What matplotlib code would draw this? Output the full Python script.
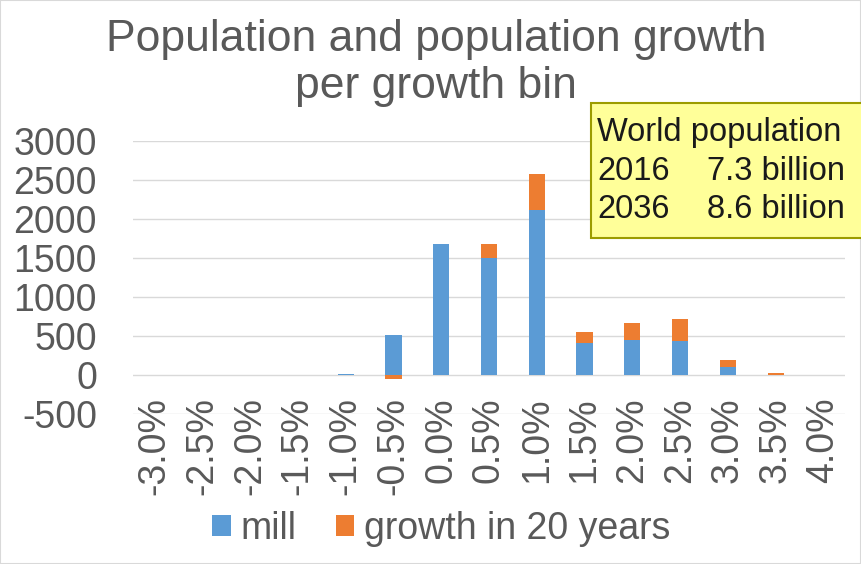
import numpy as np
import matplotlib.pyplot as plt
from matplotlib.patches import Rectangle

# growth bins and population values (millions)
bins = ['-3.0%', '-2.5%', '-2.0%', '-1.5%', '-1.0%', '-0.5%', '0.0%', '0.5%',
        '1.0%', '1.5%', '2.0%', '2.5%', '3.0%', '3.5%', '4.0%']
mill = [0, 0, 0, 3, 12, 515, 1680, 1505, 2115, 410, 450, 435, 105, 5, 0]
growth = [0, 0, 0, 1, 2, -55, 0, 175, 460, 140, 215, 285, 90, 18, 0]

plt.rcParams['font.family'] = ['Liberation Sans', 'DejaVu Sans']
plt.rcParams['axes.unicode_minus'] = False
grey = '#595959'

fig = plt.figure(figsize=(8.61, 5.64), dpi=100)
ax = fig.add_axes([133 / 861, 1 - 414 / 564, 712 / 861, 273 / 564])

x = np.arange(len(bins))
mill = np.array(mill)
growth = np.array(growth)
bottom = np.where(growth >= 0, mill, 0)
ax.bar(x, mill, width=0.34, color='#5B9BD5', label='mill', zorder=3)
ax.bar(x, growth, width=0.34, bottom=bottom, color='#ED7D31',
       label='growth in 20 years', zorder=3)

ax.set_xlim(-0.45, len(bins) - 0.55)
ax.set_ylim(-500, 3000)
ax.set_yticks(np.arange(-500, 3001, 500))
ax.set_xticks(x)
ax.set_xticklabels(bins, rotation=90)
ax.tick_params(axis='both', length=0, labelsize=27, colors=grey)
ax.tick_params(axis='y', pad=26)
ax.tick_params(axis='x', pad=-12)
ax.grid(axis='y', color='#D9D9D9', linewidth=1, zorder=0)
for s in ax.spines.values():
    s.set_visible(False)

fig.text(436 / 861, 1 - 63 / 564, 'Population and population growth\nper growth bin',
         ha='center', va='center', fontsize=32, color=grey, linespacing=1.17)

# info box
fig.patches.append(Rectangle((591 / 861, 1 - 238 / 564), 280 / 861, 135 / 564,
                             transform=fig.transFigure, facecolor='#FFFF99',
                             edgecolor='#9C9C00', linewidth=1.5, zorder=5))
rows = [('World population', ''), ('2016', '7.3 billion'), ('2036', '8.6 billion')]
for i, (a, b) in enumerate(rows):
    yy = 1 - (132 + 39 * i) / 564
    fig.text(597 / 861, yy, a, fontsize=23.5, color='#1a1a1a', va='center', zorder=6)
    if b:
        fig.text(707 / 861, yy, b, fontsize=23.5, color='#1a1a1a', va='center', zorder=6)

fig.legend(loc='center', bbox_to_anchor=(441 / 861, 1 - 529 / 564), ncol=2,
           frameon=False, fontsize=27, labelcolor=grey, handlelength=0.5,
           handleheight=0.5, handletextpad=0.25, columnspacing=1.05)

fig.patches.append(Rectangle((0, 0), 1, 1, transform=fig.transFigure, fill=False,
                             edgecolor='#D9D9D9', linewidth=1.5))

fig.savefig('out.png', dpi=100)
